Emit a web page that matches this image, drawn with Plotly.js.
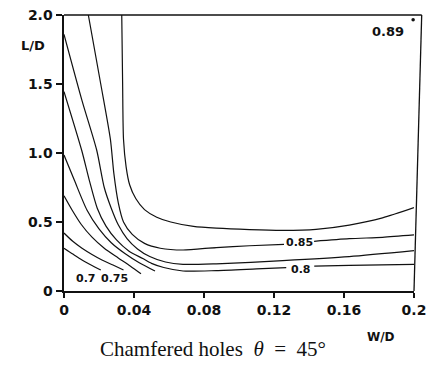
<!DOCTYPE html>
<html>
<head>
<meta charset="utf-8">
<script src="https://cdn.plot.ly/plotly-3.0.1.min.js"></script>
<style>html,body{margin:0;padding:0;background:#fff;}#chart{width:427px;height:373px;}</style>
</head>
<body>
<div id="chart"></div>
<script>
// Tick values and labels
const xTickVals = [0, 0.04, 0.08, 0.12, 0.16, 0.2];
const xTickText = ["0", "0.04", "0.08", "0.12", "0.16", "0.2"];
const yTickVals = [0, 0.5, 1.0, 1.5, 2.0];
const yTickText = ["0", "0.5", "1.0", "1.5", "2.0"];

// Contour lines (W/D, L/D); null = label gap
const c070_x = [0, 0.005, 0.0103, 0.016, 0.021];
const c070_y = [0.31, 0.268, 0.225, 0.185, 0.152];

const c075_x = [0, 0.005, 0.0103, 0.016, 0.0217, 0.028, 0.034];
const c075_y = [0.42, 0.36, 0.31, 0.265, 0.225, 0.188, 0.152];

const c077_x = [0, 0.0046, 0.01, 0.016, 0.023, 0.031, 0.038, 0.044];
const c077_y = [0.69, 0.587, 0.48, 0.39, 0.31, 0.24, 0.18, 0.125];

const c079_x = [0, 0.006, 0.0131, 0.02, 0.027, 0.035, 0.043, 0.052];
const c079_y = [0.985, 0.8, 0.587, 0.45, 0.35, 0.27, 0.205, 0.145];

const c080_x = [0, 0.0101, 0.0145, 0.019, 0.024, 0.03, 0.037, 0.045, 0.05, 0.057, 0.068, 0.087, 0.11, 0.127, null, 0.143, 0.163, 0.2];
const c080_y = [1.445, 1.02, 0.8, 0.6, 0.47, 0.37, 0.29, 0.235, 0.2, 0.17, 0.145, 0.148, 0.16, 0.169, null, 0.18, 0.186, 0.193];

const c083_x = [0, 0.0103, 0.0187, 0.023, 0.027, 0.031, 0.036, 0.042, 0.049, 0.058, 0.068, 0.087, 0.125, 0.163, 0.2];
const c083_y = [1.86, 1.38, 1.02, 0.75, 0.6, 0.48, 0.38, 0.305, 0.25, 0.21, 0.193, 0.197, 0.22, 0.249, 0.292];

const c085_x = [0.0139, 0.021, 0.0265, 0.0285, 0.031, 0.034, 0.039, 0.046, 0.055, 0.068, 0.087, 0.106, 0.1257, null, 0.1429, 0.163, 0.182, 0.2];
const c085_y = [2.0, 1.5, 1.1, 0.85, 0.64, 0.5, 0.41, 0.345, 0.31, 0.297, 0.315, 0.328, 0.338, null, 0.36, 0.379, 0.389, 0.406];

const c087_x = [0.033, 0.0335, 0.034, 0.0355, 0.0375, 0.041, 0.046, 0.053, 0.061, 0.074, 0.087, 0.106, 0.125, 0.144, 0.163, 0.182, 0.2];
const c087_y = [2.0, 1.5, 1.1, 0.9, 0.77, 0.67, 0.59, 0.535, 0.5, 0.468, 0.455, 0.445, 0.44, 0.447, 0.478, 0.53, 0.604];

// Maximum point
const peak_x = [0.1995];
const peak_y = [1.965];

// Contour labels
const labelText = ["0.7", "0.75", "0.8", "0.85", "0.89"];
const labelX = [0.0126, 0.0289, 0.1355, 0.1343, 0.1854];
const labelY = [0.094, 0.094, 0.155, 0.352, 1.884];
const labelSize = [11, 11, 11, 11, 13];

const lines = [
  [c070_x, c070_y], [c075_x, c075_y], [c077_x, c077_y], [c079_x, c079_y],
  [c080_x, c080_y], [c083_x, c083_y], [c085_x, c085_y], [c087_x, c087_y]
];

const traces = lines.map(([x, y]) => ({
  type: 'scatter', mode: 'lines', x: x, y: y,
  line: {color: '#111', width: 1.2, shape: 'spline', smoothing: 0.7},
  connectgaps: false, hoverinfo: 'skip', showlegend: false, cliponaxis: false
}));
traces.push({
  type: 'scatter', mode: 'markers', x: peak_x, y: peak_y,
  marker: {color: '#111', size: 3.5}, showlegend: false, cliponaxis: false
});

const sans = 'DejaVu Sans, sans-serif';
const annotations = labelText.map((t, i) => ({
  x: labelX[i], y: labelY[i], xref: 'x', yref: 'y', text: t, showarrow: false,
  xanchor: 'center', yanchor: 'middle',
  font: {family: sans, size: labelSize[i], color: '#111', weight: 'bold'}
}));
annotations.push(
  {x: -0.088, y: 0.891, xref: 'paper', yref: 'paper', text: 'L/D', showarrow: false,
   xanchor: 'center', yanchor: 'middle', font: {family: sans, size: 13, color: '#111', weight: 'bold'}},
  {x: 0.906, y: -0.167, xref: 'paper', yref: 'paper', text: 'W/D', showarrow: false,
   xanchor: 'center', yanchor: 'middle', font: {family: sans, size: 12, color: '#111', weight: 'bold'}},
  {x: 0.425, y: -0.21, xref: 'paper', yref: 'paper', text: 'Chamfered holes  <i>θ</i>  =  45°', showarrow: false,
   xanchor: 'center', yanchor: 'middle', font: {family: 'Liberation Serif, serif', size: 21, color: '#111'}}
);

const layout = {
  width: 427, height: 373,
  margin: {l: 64, r: 13, t: 15, b: 82},
  paper_bgcolor: '#fff', plot_bgcolor: '#fff',
  showlegend: false,
  xaxis: {
    range: [0, 0.2], tickvals: xTickVals, ticktext: xTickText,
    ticks: 'outside', ticklen: 5, tickwidth: 1.5, tickcolor: '#111',
    showline: true, linewidth: 2, linecolor: '#111',
    showgrid: false, zeroline: false, fixedrange: true,
    tickfont: {family: sans, size: 14, color: '#111', weight: 'bold'}
  },
  yaxis: {
    range: [0, 2], tickvals: yTickVals, ticktext: yTickText,
    ticks: 'outside', ticklen: 6, tickwidth: 1.5, tickcolor: '#111',
    showline: true, linewidth: 2.5, linecolor: '#111',
    showgrid: false, zeroline: false, fixedrange: true,
    tickfont: {family: sans, size: 14, color: '#111', weight: 'bold'}
  },
  shapes: [
    {type: 'line', xref: 'paper', yref: 'paper', x0: 0, y0: 1, x1: 1.022, y1: 1, line: {color: '#111', width: 1.5}},
    {type: 'line', xref: 'paper', yref: 'paper', x0: 1.022, y0: 1, x1: 1.0, y1: 0, line: {color: '#111', width: 1.3}}
  ],
  annotations: annotations
};

Plotly.newPlot('chart', traces, layout, {displayModeBar: false, staticPlot: true});
</script>
</body>
</html>
